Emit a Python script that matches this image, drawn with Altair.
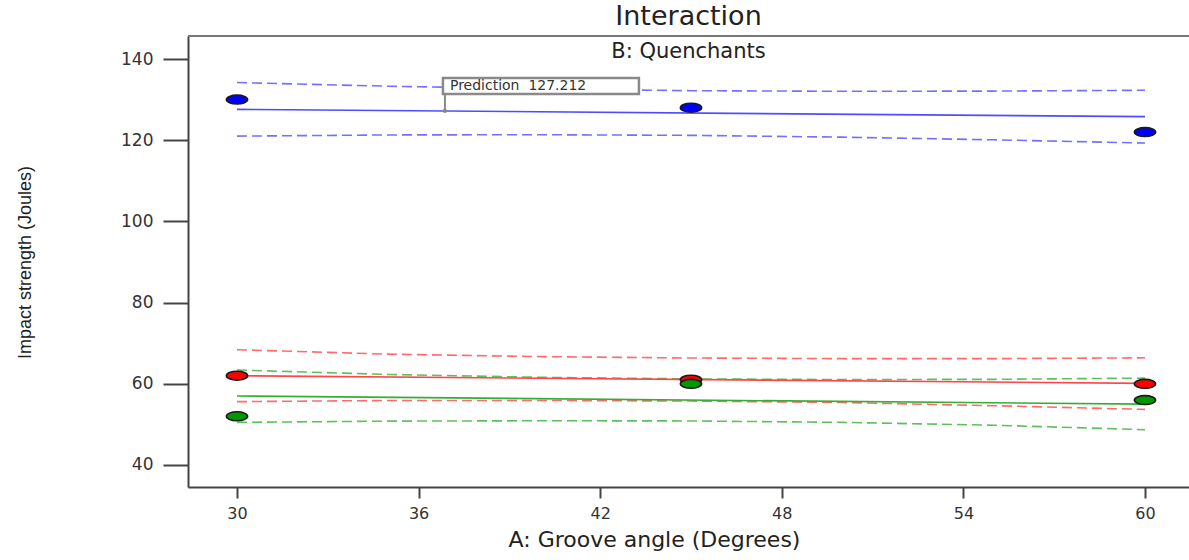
import altair as alt
import pandas as pd

# ---------------- data ----------------
series_names = ["B1", "B2", "B3"]
series_colors = ["#0000ff", "#ff0000", "#009a00"]      # point fill
line_colors = ["#4d4dff", "#ff4545", "#33b033"]        # fitted / band lines

angles = [30, 45, 60]
obs_b1 = [130, 128, 122]
obs_b2 = [62, 61, 60]
obs_b3 = [52, 60, 56]

fit_x = [30, 60]
fit_b1 = [127.6, 125.8]
fit_b2 = [62.0, 60.1]
fit_b3 = [57.0, 55.0]

band_x = [30, 35, 40, 45, 50, 55, 60]
up_b1 = [134.2, 133.3, 132.65, 132.2, 132.05, 132.1, 132.3]
lo_b1 = [121.0, 121.3, 121.35, 121.2, 120.75, 120.1, 119.3]
up_b2 = [68.4, 67.3, 66.7, 66.35, 66.2, 66.2, 66.4]
lo_b2 = [55.6, 55.9, 55.9, 55.75, 55.4, 54.6, 53.7]
up_b3 = [63.4, 62.3, 61.6, 61.2, 61.05, 61.1, 61.4]
lo_b3 = [50.5, 50.8, 50.9, 50.85, 50.5, 49.8, 48.7]

pred_x = [36.87]
pred_y = [127.212]
pred_label = ["Prediction\u00a0\u00a0127.212"]

x_ticks = [30, 36, 42, 48, 54, 60]
y_ticks = [40, 60, 80, 100, 120, 140]

# ---------------- tables ----------------
obs = pd.DataFrame(
    [(a, v, s) for s, vals in zip(series_names, [obs_b1, obs_b2, obs_b3]) for a, v in zip(angles, vals)],
    columns=["angle", "value", "series"],
)
fit = pd.DataFrame(
    [(a, v, s) for s, vals in zip(series_names, [fit_b1, fit_b2, fit_b3]) for a, v in zip(fit_x, vals)],
    columns=["angle", "value", "series"],
)
band_rows = []
for s, up, lo in zip(series_names, [up_b1, up_b2, up_b3], [lo_b1, lo_b2, lo_b3]):
    for a, v in zip(band_x, up):
        band_rows.append((a, v, s, s + "_up"))
    for a, v in zip(band_x, lo):
        band_rows.append((a, v, s, s + "_lo"))
band = pd.DataFrame(band_rows, columns=["angle", "value", "series", "bound"])
pred = pd.DataFrame({"angle": pred_x, "value": pred_y, "label": pred_label})

FONT = "DejaVu Sans"
W, H = 1001, 451

xscale = alt.Scale(domain=[28.381, 61.454], nice=False, zero=False)
yscale = alt.Scale(domain=[34.58, 145.67], nice=False, zero=False)

x_enc = alt.X(
    "angle:Q", scale=xscale,
    axis=alt.Axis(
        values=x_ticks, title="A: Groove angle (Degrees)", grid=False,
        tickSize=11, tickWidth=2, tickColor="#444", domainColor="#444", domainWidth=2,
        labelFont=FONT, labelFontSize=16, labelColor="#333", labelPadding=7,
        titleFont=FONT, titleFontSize=22, titleFontWeight="normal", titleColor="#222",
        titleX=466, titleY=59, titleAnchor="middle", titleBaseline="alphabetic",
    ),
)
y_enc = alt.Y(
    "value:Q", scale=yscale,
    axis=alt.Axis(
        values=y_ticks, title="Impact strength (Joules)", grid=False,
        tickSize=25, tickWidth=2, tickColor="#444", domainColor="#444", domainWidth=2,
        labelFont=FONT, labelFontSize=17, labelColor="#333", labelPadding=10,
        titleFont="Liberation Sans",
        titleFontSize=18, titleFontWeight="normal", titleColor="#222",
        titleX=-163, titleY=226, titleAngle=-90, titleAnchor="middle", titleBaseline="middle",
    ),
)

color_line = alt.Color("series:N", scale=alt.Scale(domain=series_names, range=line_colors), legend=None)
color_fill = alt.Color("series:N", scale=alt.Scale(domain=series_names, range=series_colors), legend=None)

bands = alt.Chart(band).mark_line(strokeDash=[10, 5], strokeWidth=1.6, opacity=0.8).encode(
    x=x_enc, y=y_enc, color=color_line, detail="bound:N"
)
fits = alt.Chart(fit).mark_line(strokeWidth=1.6).encode(x=x_enc, y=y_enc, color=color_line)

ellipse = "M -1 0 A 1 0.42 0 1 1 1 0 A 1 0.42 0 1 1 -1 0 Z"
points = alt.Chart(obs).mark_point(
    shape=ellipse, size=450, filled=True, opacity=1, stroke="#1a1a1a", strokeWidth=1.6
).encode(
    x=x_enc, y=y_enc, fill=color_fill,
    order=alt.Order("series:N", sort="ascending"),
)

top_frame = alt.Chart(pred).mark_rule(color="#777", strokeWidth=2).encode(
    x=alt.value(0), x2=alt.value(W), y=alt.value(0)
)

leader = alt.Chart(pred).mark_rule(color="#888", strokeWidth=2, y2Offset=-17).encode(
    x="angle:Q", y="value:Q", y2="value:Q"
)
leader_dot = alt.Chart(pred).mark_point(filled=True, color="#888", size=18, opacity=1).encode(
    x="angle:Q", y="value:Q"
)
box = alt.Chart(pred).mark_rect(
    fill="white", stroke="#8a8a8a", strokeWidth=2.5,
    xOffset=-2, x2Offset=194, yOffset=-33, y2Offset=-17,
).encode(x="angle:Q", x2="angle:Q", y="value:Q", y2="value:Q")
box_text = alt.Chart(pred).mark_text(
    align="left", baseline="middle", dx=5, dy=-25, font=FONT, fontSize=14, color="#333"
).encode(x="angle:Q", y="value:Q", text="label:N")

chart = alt.layer(
    top_frame, bands, fits, points, leader, leader_dot, box, box_text
).properties(
    width=W, height=H,
    autosize=alt.AutoSizeParams(type="none"),
    padding={"left": 188, "top": 36, "right": 0, "bottom": 73},
    title=alt.TitleParams(
        "Interaction", subtitle="B: Quenchants",
        font=FONT, fontSize=27, fontWeight="normal", color="#222",
        subtitleFont=FONT, subtitleFontSize=21, subtitleColor="#222", subtitlePadding=10,
        anchor="middle", offset=-28,
    ),
).configure_view(stroke=None).configure(background="white")

chart.save("out.html", embed_options={"renderer": "svg", "actions": False})
